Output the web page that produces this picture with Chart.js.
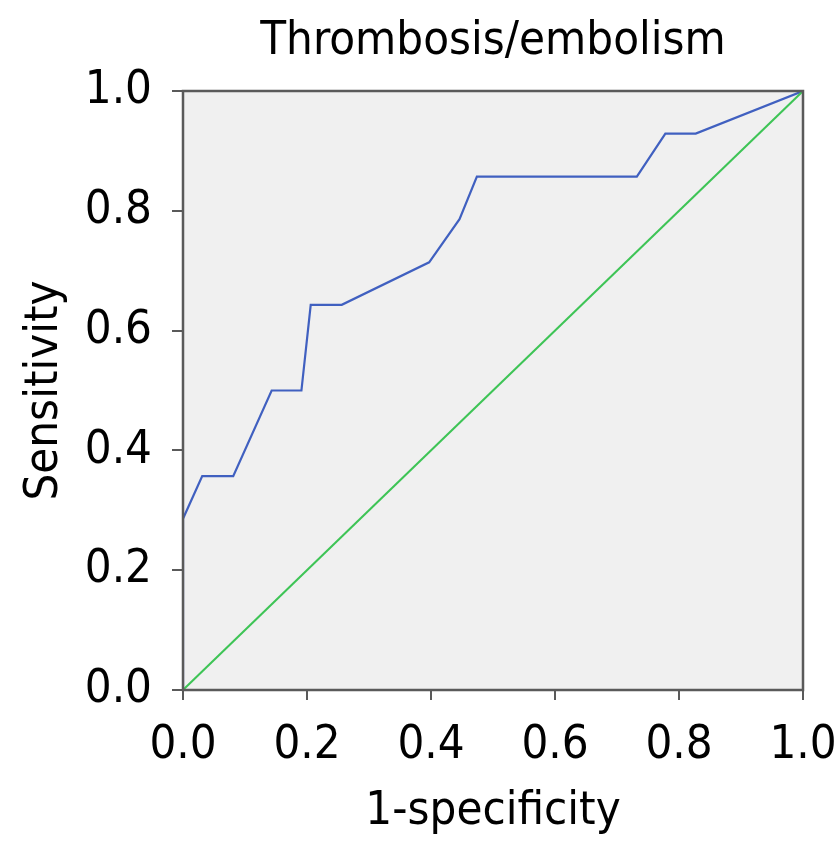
<!DOCTYPE html>
<html>
<head>
<meta charset="utf-8">
<script src="https://cdn.jsdelivr.net/npm/chart.js@4/dist/chart.umd.min.js"></script>
<style>
  html, body { margin: 0; padding: 0; background: #ffffff; }
  #wrap { width: 839px; height: 858px; }
</style>
</head>
<body>
<div id="wrap"><canvas id="c" width="839" height="858"></canvas></div>
<script>
const chartTitle = "Thrombosis/embolism";
const xAxisTitle = "1-specificity";
const yAxisTitle = "Sensitivity";
const tickValues = [0, 0.2, 0.4, 0.6, 0.8, 1.0];

const rocFpr = [0, 0, 0.031, 0.081, 0.143, 0.191, 0.206, 0.256, 0.397, 0.446, 0.474, 0.732, 0.778, 0.827, 1];
const rocTpr = [0, 0.286, 0.357, 0.357, 0.5, 0.5, 0.643, 0.643, 0.714, 0.786, 0.857, 0.857, 0.929, 0.929, 1];
const refX = [0, 1];
const refY = [0, 1];

const FONT = "'DejaVu Sans Condensed', 'Noto Sans', sans-serif";

const bgPlugin = {
  id: 'bgBox',
  beforeDatasetsDraw(chart) {
    const {ctx, chartArea: a} = chart;
    ctx.save();
    ctx.fillStyle = '#f0f0f0';
    ctx.fillRect(a.left, a.top, a.right - a.left, a.bottom - a.top);
    ctx.restore();
  },
  afterDraw(chart) {
    const {ctx, chartArea: a} = chart;
    ctx.save();
    ctx.strokeStyle = '#5a5a5a';
    ctx.lineWidth = 2.5;
    ctx.strokeRect(a.left, a.top, a.right - a.left, a.bottom - a.top);
    ctx.restore();
  }
};

function noPad(s) {
  s.paddingLeft = 0; s.paddingRight = 0; s.paddingTop = 0; s.paddingBottom = 0;
}

new Chart(document.getElementById('c'), {
  type: 'scatter',
  data: {
    datasets: [
      {
        data: refX.map((x, i) => ({x: x, y: refY[i]})),
        showLine: true,
        borderColor: '#3ec456',
        borderWidth: 2,
        pointRadius: 0,
        tension: 0
      },
      {
        data: rocFpr.map((x, i) => ({x: x, y: rocTpr[i]})),
        showLine: true,
        borderColor: '#4060c0',
        borderWidth: 2.2,
        pointRadius: 0,
        tension: 0
      }
    ]
  },
  plugins: [bgPlugin],
  options: {
    responsive: false,
    animation: false,
    devicePixelRatio: 1,
    layout: { padding: { left: 0, right: 36, top: 0, bottom: 0 } },
    plugins: {
      legend: { display: false },
      tooltip: { enabled: false },
      title: { display: false }
    },
    scales: {
      x: {
        type: 'linear',
        min: 0, max: 1,
        afterBuildTicks(s) { s.ticks = tickValues.map(v => ({value: v})); },
        afterFit(s) { s.height = 168; noPad(s); },
        ticks: {
          color: '#000',
          font: { family: FONT, size: 47 },
          padding: 18,
          maxRotation: 0,
          callback: v => Number(v).toFixed(1)
        },
        grid: { drawOnChartArea: false, drawTicks: true, tickLength: 10, color: '#5a5a5a', lineWidth: 2 },
        border: { display: true, color: '#5a5a5a', width: 2 },
        title: {
          display: true,
          text: xAxisTitle,
          color: '#000',
          font: { family: FONT, size: 47 },
          padding: { top: 0, bottom: 18 }
        }
      },
      xTop: {
        type: 'linear',
        position: 'top',
        min: 0, max: 1,
        afterFit(s) { s.height = 91; noPad(s); },
        ticks: { display: false },
        grid: { display: false },
        border: { display: false },
        title: {
          display: true,
          text: chartTitle,
          color: '#000',
          font: { family: FONT, size: 47 },
          padding: { top: 14, bottom: 0 }
        }
      },
      y: {
        type: 'linear',
        min: 0, max: 1,
        afterBuildTicks(s) { s.ticks = tickValues.map(v => ({value: v})); },
        afterFit(s) { s.width = 183; noPad(s); },
        ticks: {
          color: '#000',
          font: { family: FONT, size: 47 },
          padding: 20,
          callback: v => Number(v).toFixed(1)
        },
        grid: { drawOnChartArea: false, drawTicks: true, tickLength: 11, color: '#5a5a5a', lineWidth: 2 },
        border: { display: true, color: '#5a5a5a', width: 2 },
        title: {
          display: true,
          text: yAxisTitle,
          color: '#000',
          font: { family: FONT, size: 47 },
          padding: { top: 17, bottom: 0 }
        }
      }
    }
  }
});
</script>
</body>
</html>
